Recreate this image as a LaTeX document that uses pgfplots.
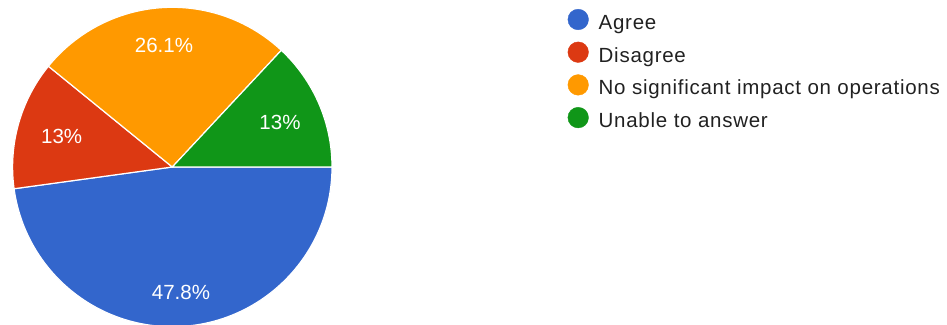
\documentclass[border=0pt]{standalone}
\usepackage{fontspec}
\setmainfont{Liberation Sans}
\newfontfamily\legfont[LetterSpace=3.6]{Liberation Sans}
\usepackage{pgfplots}
\usepackage{pgfplotstable}
\pgfplotsset{compat=1.18}
\definecolor{agreeblue}{HTML}{3366CC}
\definecolor{disred}{HTML}{DC3912}
\definecolor{noorange}{HTML}{FF9900}
\definecolor{unablegreen}{HTML}{109618}
\definecolor{txtgray}{HTML}{212121}
\pgfplotstableread{
label n
Agree 11
Disagree 3
NoImpact 6
Unable 3
}\piedata
\pgfplotsset{pieleg/.style={legend image code/.code={\fill[#1] (10.3pt,5pt) circle[radius=10.3pt];}}}
\begin{document}
\begin{tikzpicture}
\pgfplotstablegetelem{0}{n}\of\piedata\let\nA\pgfplotsretval
\pgfplotstablegetelem{1}{n}\of\piedata\let\nB\pgfplotsretval
\pgfplotstablegetelem{2}{n}\of\piedata\let\nC\pgfplotsretval
\pgfplotstablegetelem{3}{n}\of\piedata\let\nD\pgfplotsretval
\pgfmathsetmacro\tot{\nA+\nB+\nC+\nD}
\pgfmathsetmacro\aA{-360*\nA/\tot}
\pgfmathsetmacro\aB{\aA-360*\nB/\tot}
\pgfmathsetmacro\aC{\aB-360*\nC/\tot}
\pgfmathsetmacro\aD{\aC-360*\nD/\tot}
\begin{axis}[
  at={(0,0)}, anchor=origin,
  x=1pt, y=1pt,
  xmin=0, xmax=947, ymin=0, ymax=324,
  hide axis, clip=false,
  legend cell align=left,
  legend style={draw=none, fill=none, inner sep=0pt, outer sep=0pt,
    at={(axis cs:567.7,315)}, anchor=north west,
    font=\legfont\fontsize{20.5}{24}\selectfont, text=txtgray,
    nodes={inner sep=0pt, text height=15.3pt, text depth=5.3pt},
    row sep=6.9pt, column sep=0pt,
    /tikz/every odd column/.append style={column sep=10pt}},
]
\addlegendimage{pieleg=agreeblue}\addlegendentry{Agree}
\addlegendimage{pieleg=disred}\addlegendentry{Disagree}
\addlegendimage{pieleg=noorange}\addlegendentry{No significant impact on operations}
\addlegendimage{pieleg=unablegreen}\addlegendentry{Unable to answer}
\fill[agreeblue, draw=white, line width=1.2pt] (axis cs:172.3,157) -- ++(0:159.7pt) arc[start angle=0, end angle=\aA, radius=159.7pt] -- cycle;
\fill[disred, draw=white, line width=1.2pt] (axis cs:172.3,157) -- ++(\aA:159.7pt) arc[start angle=\aA, end angle=\aB, radius=159.7pt] -- cycle;
\fill[noorange, draw=white, line width=1.2pt] (axis cs:172.3,157) -- ++(\aB:159.7pt) arc[start angle=\aB, end angle=\aC, radius=159.7pt] -- cycle;
\fill[unablegreen, draw=white, line width=1.2pt] (axis cs:172.3,157) -- ++(\aC:159.7pt) arc[start angle=\aC, end angle=\aD, radius=159.7pt] -- cycle;
\node[text=white, inner sep=0pt, font=\fontsize{20.5}{24}\selectfont] at (axis cs:181,31.3) {47.8\%};
\node[text=white, inner sep=0pt, font=\fontsize{20.5}{24}\selectfont] at (axis cs:61.7,187.3) {13\%};
\node[text=white, inner sep=0pt, font=\fontsize{20.5}{24}\selectfont] at (axis cs:164,278.3) {26.1\%};
\node[text=white, inner sep=0pt, font=\fontsize{20.5}{24}\selectfont] at (axis cs:280,201.3) {13\%};
\end{axis}
\pgfresetboundingbox
\useasboundingbox (0,0) rectangle (947pt,324pt);
\end{tikzpicture}
\end{document}
